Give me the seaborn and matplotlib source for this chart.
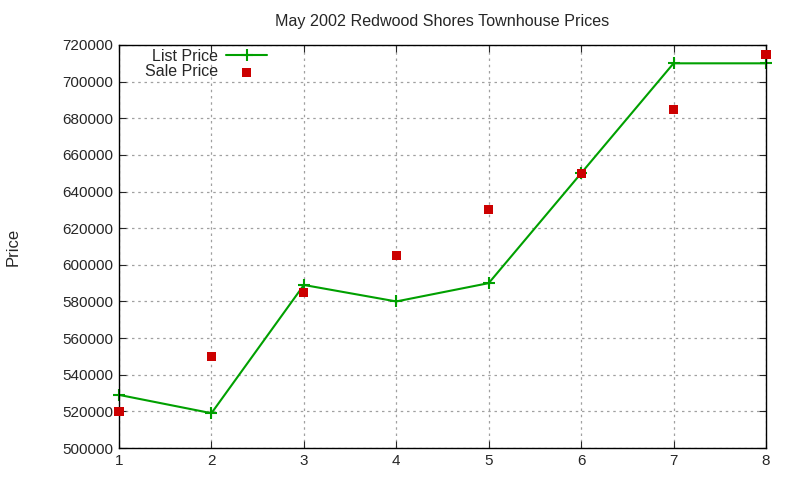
import numpy as np
import pandas as pd
import matplotlib
matplotlib.use('Agg')
import matplotlib.pyplot as plt
import seaborn as sns

# data
listing = [1, 2, 3, 4, 5, 6, 7, 8]
list_price = [529000, 519000, 589000, 580000, 590000, 650000, 710000, 710000]
sale_price = [520000, 550000, 585000, 605000, 630000, 650000, 685000, 715000]

df = pd.DataFrame({'n': listing, 'list': list_price, 'sale': sale_price})

sns.set_style('ticks')
plt.rcParams['font.family'] = ['Liberation Sans', 'DejaVu Sans']

fig = plt.figure(figsize=(8, 4.8), dpi=100)
ax = fig.add_axes([119/800, 1 - 448/480, (766 - 119)/800, (448 - 45)/480])

sns.lineplot(data=df, x='n', y='list', ax=ax, color='#00a000', lw=1.5,
             marker='+', markersize=9, markeredgewidth=1.5,
             markeredgecolor='#00a000', label='List Price', clip_on=False)
sns.scatterplot(data=df, x='n', y='sale', ax=ax, color='#cc0000', marker='s',
                s=42, edgecolor='none', label='Sale Price', zorder=3, clip_on=False)

ax.set_xlim(1, 8)
ax.set_ylim(500000, 720000)
ax.set_xticks(np.arange(1, 9))
ax.set_yticks(np.arange(500000, 720001, 20000))
ax.grid(True, color='#a0a0a0', linestyle=(0, (2, 3)), lw=0.9)
ax.tick_params(direction='in', top=True, right=True, length=5, labelsize=11, pad=4)
for s in ax.spines.values():
    s.set_linewidth(1.0)
    s.set_color('black')

ax.set_xlabel('')
ax.set_ylabel('Price', fontsize=12, labelpad=30)
ax.set_title('May 2002 Redwood Shores Townhouse Prices', fontsize=11.6, pad=14)

leg = ax.legend(loc='upper left', bbox_to_anchor=(0.025, 1.015), markerfirst=False,
                frameon=False, fontsize=11.5, handlelength=2.6, handletextpad=0.5,
                labelspacing=0.05, borderaxespad=0.2)

fig.savefig('out.png', dpi=100)
